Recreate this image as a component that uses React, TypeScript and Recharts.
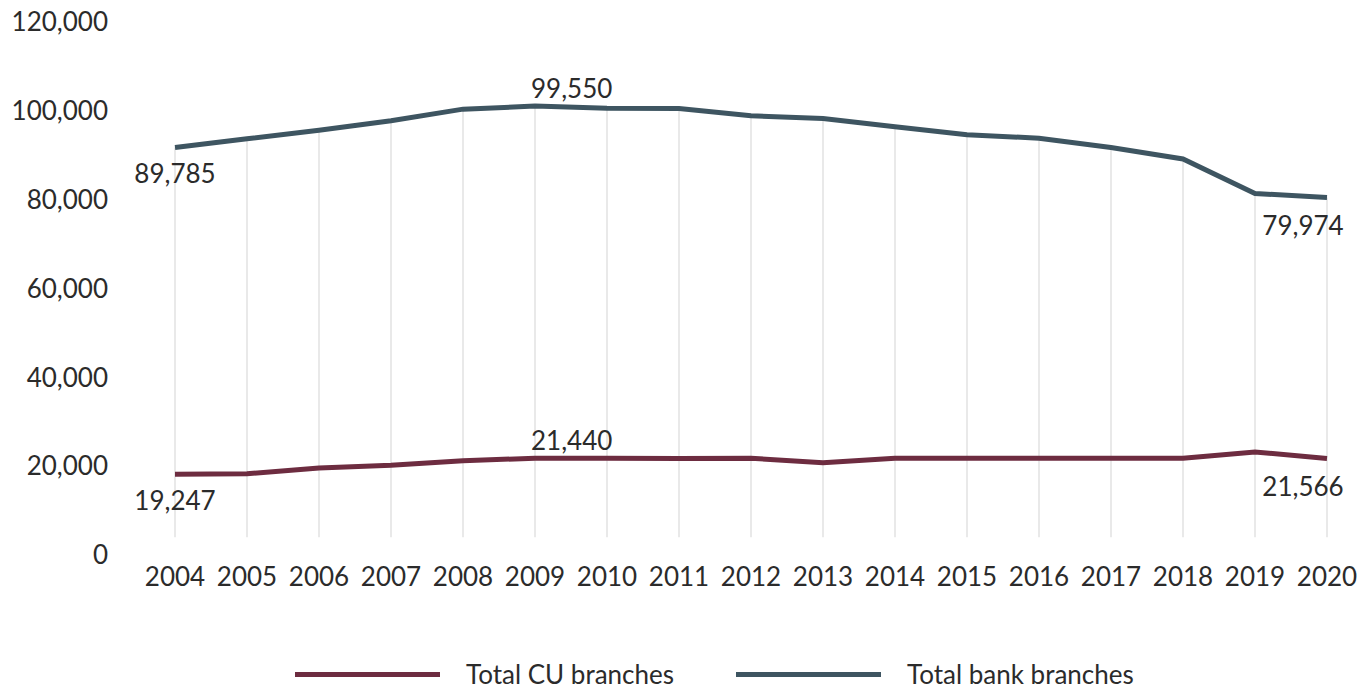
import { LineChart, Line, XAxis, YAxis, ReferenceLine, LabelList, Legend } from "recharts";

const years = ["2004", "2005", "2006", "2007", "2008", "2009", "2010", "2011", "2012", "2013", "2014", "2015", "2016", "2017", "2018", "2019", "2020"];
const bankBranches = [91750, 93700, 95650, 97750, 100380, 101060, 100600, 100500, 98900, 98250, 96400, 94600, 93850, 91750, 89150, 81400, 80500];
const cuBranches = [18200, 18270, 19600, 20200, 21200, 21800, 21800, 21750, 21800, 20750, 21800, 21800, 21800, 21800, 21800, 23200, 21750];
const bankLabels = ["89,785", "", "", "", "", "99,550", "", "", "", "", "", "", "", "", "", "", "79,974"];
const cuLabels = ["19,247", "", "", "", "", "21,440", "", "", "", "", "", "", "", "", "", "", "21,566"];
const yTicks = [0, 20000, 40000, 60000, 80000, 100000, 120000];

const BANK = "#3e5561";
const CU = "#6d2c40";
const FONT = "Lato, 'Open Sans', sans-serif";
const DROP_FLOOR = 4000;

const data = years.map((year, i) => ({ year, bank: bankBranches[i], cu: cuBranches[i] }));

function pointLabel(texts: string[]) {
  return (p: any) => {
    const text = texts[p.index];
    if (!text) return null;
    const last = p.index === texts.length - 1;
    const first = p.index === 0;
    const x = first ? p.x : last ? p.x - 24 : p.x - 4;
    const dy = first ? 26 : last ? 28 : -18;
    return (
      <text
        key={`lbl-${p.index}`}
        x={x}
        y={p.y + dy}
        textAnchor={first || last ? "middle" : "start"}
        dominantBaseline="central"
        fontFamily={FONT}
        fontSize={26}
        fill="#2b2b2b"
      >
        {text}
      </text>
    );
  };
}

function LegendBox() {
  const items = [
    { name: "Total CU branches", color: CU },
    { name: "Total bank branches", color: BANK },
  ];
  return (
    <div style={{ display: "flex", alignItems: "center", paddingLeft: 295, height: 32 }}>
      {items.map(it => (
        <div key={it.name} style={{ display: "flex", alignItems: "center", width: 441 }}>
          <div style={{ width: 145, height: 5, background: it.color, marginRight: 26 }} />
          <span style={{ fontFamily: FONT, fontSize: 26, color: "#2b2b2b" }}>{it.name}</span>
        </div>
      ))}
    </div>
  );
}

export default function App() {
  return (
    <div style={{ width: 1360, height: 688, background: "#fff" }}>
      <style>{"body{margin:0}"}</style>
      <LineChart width={1360} height={688} data={data} margin={{ top: 22, right: 0, bottom: 0, left: 0 }}>
        <XAxis
          dataKey="year"
          height={133}
          axisLine={false}
          tickLine={false}
          tickSize={0}
          tickMargin={13}
          interval={0}
          padding={{ left: 55, right: 33 }}
          tick={{ fontFamily: FONT, fontSize: 26, fill: "#2b2b2b" }}
        />
        <YAxis
          domain={[0, 120000]}
          ticks={yTicks}
          interval={0}
          width={120}
          axisLine={false}
          tickLine={false}
          tickSize={0}
          tickMargin={12}
          tickFormatter={(v: number) => v.toLocaleString("en-US")}
          tick={{ fontFamily: FONT, fontSize: 26, fill: "#2b2b2b" }}
        />
        {data.map(d => (
          <ReferenceLine
            key={`drop-${d.year}`}
            segment={[{ x: d.year, y: DROP_FLOOR }, { x: d.year, y: d.bank }]}
            stroke="#e2e2e2"
            strokeWidth={1.5}
          />
        ))}
        <Legend verticalAlign="middle" wrapperStyle={{ top: 658, left: 0, width: 1360 }} content={() => <LegendBox />} />
        <Line type="linear" dataKey="cu" name="Total CU branches" stroke={CU} strokeWidth={5} dot={false} isAnimationActive={false}>
          <LabelList dataKey="cu" content={pointLabel(cuLabels)} />
        </Line>
        <Line type="linear" dataKey="bank" name="Total bank branches" stroke={BANK} strokeWidth={5} dot={false} isAnimationActive={false}>
          <LabelList dataKey="bank" content={pointLabel(bankLabels)} />
        </Line>
      </LineChart>
    </div>
  );
}
